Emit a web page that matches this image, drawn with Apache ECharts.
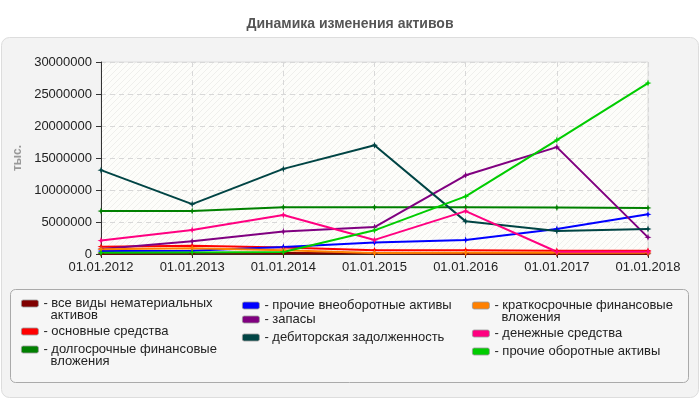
<!DOCTYPE html>
<html>
<head>
<meta charset="utf-8">
<script src="https://cdn.jsdelivr.net/npm/echarts@6/dist/echarts.min.js"></script>
<style>
html, body { margin: 0; padding: 0; background: #fff; }
#chart { width: 700px; height: 400px; }
</style>
</head>
<body>
<div id="chart"></div>
<script>
// данные (млн -> тыс. ниже)
const years = ['01.01.2012', '01.01.2013', '01.01.2014', '01.01.2015', '01.01.2016', '01.01.2017', '01.01.2018'];
const names = [
  'все виды нематериальных активов',
  'основные средства',
  'долгосрочные финансовые вложения',
  'прочие внеоборотные активы',
  'запасы',
  'дебиторская задолженность',
  'краткосрочные финансовые вложения',
  'денежные средства',
  'прочие оборотные активы'
];
const colors = ['#800000', '#ff0000', '#008000', '#0000ff', '#800080', '#004444', '#ff8000', '#ff0080', '#00cc00'];
const intangible = [0.05, 0.1, 0.15, 0.1, 0.05, 0.02, 0.02];
const fixedAssets = [1.15, 1.3, 1.0, 0.6, 0.6, 0.5, 0.5];
const longInvest = [6.7, 6.7, 7.3, 7.3, 7.3, 7.25, 7.2];
const otherNonCurrent = [0.45, 0.5, 1.1, 1.8, 2.2, 3.9, 6.2];
const stocks = [0.8, 2.0, 3.5, 4.2, 12.3, 16.7, 2.6];
const receivables = [13.1, 7.8, 13.3, 17.0, 5.1, 3.6, 3.9];
const shortInvest = [0.75, 0.9, 0.6, 0.15, 0.2, 0.2, 0.2];
const cash = [2.1, 3.75, 6.1, 2.2, 6.7, 0.35, 0.35];
const otherCurrent = [0.2, 0.25, 0.3, 3.7, 9.0, 17.8, 26.7];
const yTicks = [0, 5000000, 10000000, 15000000, 20000000, 25000000, 30000000];

const allData = [intangible, fixedAssets, longInvest, otherNonCurrent, stocks, receivables, shortInvest, cash, otherCurrent];
// пустая первая строка, чтобы первая строка текста стояла напротив значка
const legendLabels = [
  '\n- все виды нематериальных\n  активов',
  '- основные средства',
  '\n- долгосрочные финансовые\n  вложения',
  '- прочие внеоборотные активы',
  '- запасы',
  '- дебиторская задолженность',
  '\n- краткосрочные финансовые\n  вложения',
  '- денежные средства',
  '- прочие оборотные активы'
];
// положение значков легенды (лево, центр значка)
const legendPos = [
  [21, 303], [21, 331], [21, 349],
  [242, 305], [242, 319], [242, 337],
  [472, 305], [472, 333], [472, 351]
];

// штриховка фона области графика
const hatch = document.createElement('canvas');
hatch.width = 6; hatch.height = 6;
const hc = hatch.getContext('2d');
hc.fillStyle = '#fdfdfa';
hc.fillRect(0, 0, 6, 6);
hc.strokeStyle = '#efefec';
hc.lineWidth = 1;
hc.beginPath();
hc.moveTo(0, 6); hc.lineTo(6, 0);
hc.moveTo(-1, 1); hc.lineTo(1, -1);
hc.moveTo(5, 7); hc.lineTo(7, 5);
hc.stroke();

const font = 'Liberation Sans, Arial, sans-serif';
const star = 'path://M0,-3 L0.8,-0.8 L3,0 L0.8,0.8 L0,3 L-0.8,0.8 L-3,0 L-0.8,-0.8 Z';

const series = names.map(function (n, i) {
  return {
    name: n,
    type: 'line',
    data: allData[i].map(function (v) { return Math.round(v * 1000000); }),
    color: colors[i],
    symbol: star,
    symbolSize: 7,
    showAllSymbol: true,
    lineStyle: { width: 2 },
    itemStyle: { color: colors[i] },
    emphasis: { disabled: true }
  };
});

const legends = names.map(function (n, i) {
  const twoLines = legendLabels[i].charAt(0) === '\n';
  const top = legendPos[i][1] - (twoLines ? 18 : 6);
  return {
    data: [n],
    left: legendPos[i][0],
    top: top,
    padding: 0,
    icon: 'roundRect',
    itemWidth: 17,
    itemHeight: 7,
    itemStyle: { borderColor: '#999', borderWidth: 0.8 },
    selectedMode: false,
    formatter: function () { return legendLabels[i]; },
    textStyle: { fontFamily: font, fontSize: 13, color: '#222', lineHeight: 12 }
  };
});

const chart = echarts.init(document.getElementById('chart'));
chart.setOption({
  animation: false,
  backgroundColor: '#fff',
  title: {
    text: 'Динамика изменения активов',
    left: 'center',
    top: 12,
    textStyle: { fontFamily: font, fontSize: 14, fontWeight: 'bold', color: '#555' }
  },
  graphic: [
    {
      type: 'rect', z: -10, silent: true,
      shape: { x: 1.5, y: 37.5, width: 697, height: 360, r: 8 },
      style: { fill: '#f3f3f3', stroke: '#dddddd', lineWidth: 1 }
    },
    {
      type: 'rect', z: -5, silent: true,
      shape: { x: 10.5, y: 289.5, width: 678, height: 93, r: 5 },
      style: { fill: '#f6f6f6', stroke: '#aaaaaa', lineWidth: 1 }
    }
  ],
  grid: {
    left: 101, right: 52, top: 62, bottom: 146,
    show: true,
    backgroundColor: { image: hatch, repeat: 'repeat' },
    borderColor: '#dddddd',
    borderWidth: 1
  },
  legend: legends,
  xAxis: {
    type: 'category',
    data: years,
    boundaryGap: false,
    axisLine: { lineStyle: { color: '#333', width: 1 } },
    axisTick: { show: true, length: 4, lineStyle: { color: '#333' } },
    axisLabel: { fontFamily: font, fontSize: 13, color: '#222', margin: 7 },
    splitLine: { show: true, lineStyle: { color: '#d8d8d8', type: [5, 4] } }
  },
  yAxis: {
    type: 'value',
    min: yTicks[0],
    max: yTicks[yTicks.length - 1],
    interval: yTicks[1] - yTicks[0],
    name: 'тыс.',
    nameLocation: 'middle',
    nameGap: 74,
    nameTextStyle: { fontFamily: font, fontSize: 12, fontWeight: 'bold', color: '#999' },
    axisLine: { show: true, lineStyle: { color: '#333', width: 1 } },
    axisTick: { show: true, length: 5, lineStyle: { color: '#333' } },
    axisLabel: {
      fontFamily: font, fontSize: 13, color: '#222', margin: 9,
      formatter: function (v) { return String(v); }
    },
    splitLine: { show: true, lineStyle: { color: '#d8d8d8', type: [5, 4] } }
  },
  series: series
});
</script>
</body>
</html>
